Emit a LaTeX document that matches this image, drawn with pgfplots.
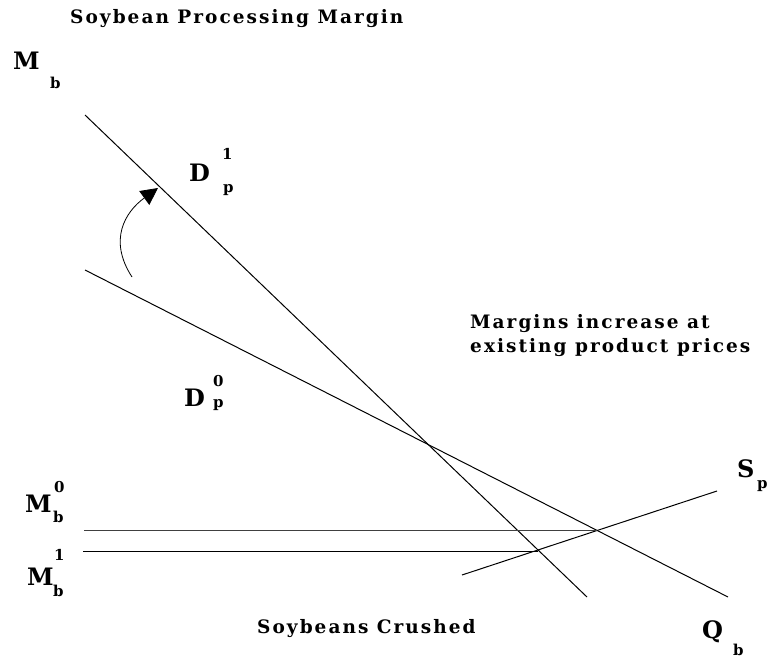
\documentclass[border=0pt]{standalone}
\usepackage{fontspec}
\setmainfont{DejaVu Serif}
\newfontfamily\spaced{DejaVu Serif}[LetterSpace=11]
\usepackage{pgfplots}
\pgfplotsset{compat=1.18}
\usetikzlibrary{arrows.meta}
\newcommand{\bigf}{\fontsize{24}{24}\selectfont\bfseries}
\newcommand{\smf}{\fontsize{15}{15}\selectfont\bfseries}
\newcommand{\txtf}{\spaced\fontsize{18.5}{24}\selectfont\bfseries}
\begin{document}
\begin{tikzpicture}
\useasboundingbox (0,0) rectangle (771pt,658pt);
\begin{axis}[at={(0,0)},anchor=south west,
  scale only axis, width=771pt, height=658pt,
  xmin=0, xmax=771, ymin=0, ymax=658, y dir=reverse,
  hide axis, clip=false]
\addplot[black, line width=1pt] coordinates {(85,115) (587,597)};
\addplot[black, line width=1pt] coordinates {(85,270) (728,597)};
\addplot[black, line width=1pt] coordinates {(462,575) (717,491)};
\addplot[black!75, line width=1pt] coordinates {(84,530) (597,530)};
\addplot[black, line width=1pt] coordinates {(83,551) (538,551)};
\draw[black, line width=0.8pt, -{Triangle[length=17pt,width=17pt]}] (axis cs:132,277) .. controls (axis cs:108,240) and (axis cs:125,212) .. (axis cs:158,188);
% labels
\node[anchor=base west, inner sep=0pt, font=\txtf] at (axis cs:70,24) {Soybean Processing Margin};
\node[anchor=base west, inner sep=0pt, font=\bigf] at (axis cs:13,70) {M};
\node[anchor=base west, inner sep=0pt, font=\smf] at (axis cs:50,89) {b};
\node[anchor=base west, inner sep=0pt, font=\bigf] at (axis cs:189,182) {D};
\node[anchor=base west, inner sep=0pt, font=\smf] at (axis cs:222,160) {1};
\node[anchor=base west, inner sep=0pt, font=\smf] at (axis cs:223,193) {p};
\node[anchor=base west, inner sep=0pt, font=\bigf] at (axis cs:184,406) {D};
\node[anchor=base west, inner sep=0pt, font=\smf] at (axis cs:213,386) {0};
\node[anchor=base west, inner sep=0pt, font=\smf] at (axis cs:213,407) {p};
\node[anchor=base west, inner sep=0pt, font=\txtf] at (axis cs:470,328) {Margins increase at};
\node[anchor=base west, inner sep=0pt, font=\txtf] at (axis cs:470,352) {existing product prices};
\node[anchor=base west, inner sep=0pt, font=\bigf] at (axis cs:737,477) {S};
\node[anchor=base west, inner sep=0pt, font=\smf] at (axis cs:757,488) {p};
\node[anchor=base west, inner sep=0pt, font=\bigf] at (axis cs:25,512) {M};
\node[anchor=base west, inner sep=0pt, font=\smf] at (axis cs:54,492) {0};
\node[anchor=base west, inner sep=0pt, font=\smf] at (axis cs:53,522) {b};
\node[anchor=base west, inner sep=0pt, font=\bigf] at (axis cs:27,585) {M};
\node[anchor=base west, inner sep=0pt, font=\smf] at (axis cs:54,560) {1};
\node[anchor=base west, inner sep=0pt, font=\smf] at (axis cs:53,596) {b};
\node[anchor=base west, inner sep=0pt, font=\txtf] at (axis cs:257,633) {Soybeans Crushed};
\node[anchor=base west, inner sep=0pt, font=\bigf] at (axis cs:702,638) {Q};
\node[anchor=base west, inner sep=0pt, font=\smf] at (axis cs:733,655) {b};
\end{axis}
\end{tikzpicture}
\end{document}
